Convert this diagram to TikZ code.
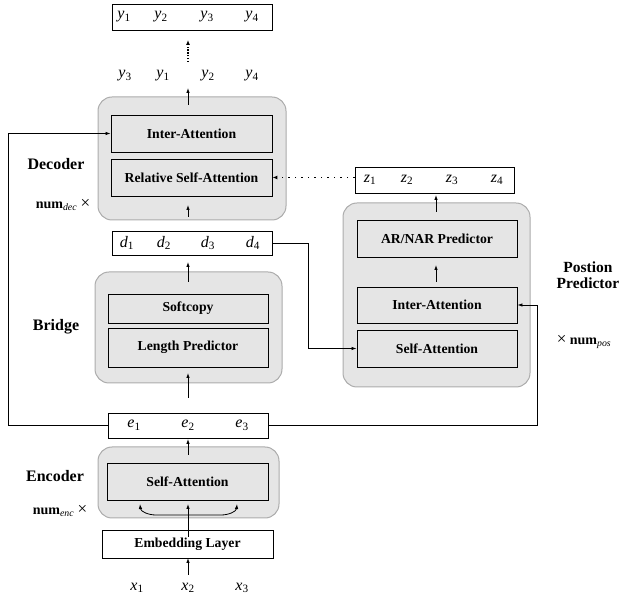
\documentclass[tikz,border=0pt]{standalone}
\usepackage{fontspec}
\setmainfont{Liberation Serif}
\usetikzlibrary{arrows.meta,calc}
\newcommand\sv[2]{\textit{#1}\textsubscript{#2}}
\newcommand\tms{{\fontsize{17}{17}\selectfont ×}}
\begin{document}
\begin{tikzpicture}[x=1pt,y=-1pt,
 grp/.style={draw=gray!65, fill=gray!20, rounded corners=14pt, line width=1pt, inner sep=0pt},
 blk/.style={draw=black, line width=0.9pt, font=\fontsize{13.7}{15}\selectfont\bfseries, inner sep=0pt},
 seq/.style={draw=black, line width=0.9pt, fill=white, inner sep=0pt},
 lab/.style={font=\fontsize{16}{17}\selectfont\bfseries, align=center, inner sep=0pt},
 num/.style={font=\fontsize{14}{16}\selectfont, inner sep=0pt},
 var/.style={font=\fontsize{16}{18}\selectfont, inner sep=0pt},
 arr/.style={-{Latex[length=5pt,width=3.5pt]}, line width=0.8pt},
 dotarr/.style={-{Latex[length=5pt,width=4pt]}, line width=1.2pt, dash pattern=on 1.2pt off 5.3pt},
 densedot/.style={-{Latex[length=5pt,width=4pt]}, line width=1.6pt, dash pattern=on 1.4pt off 1.4pt}]
\useasboundingbox (0,0) rectangle (619,601);

% ---- group boxes
\node[grp, minimum width=188pt, minimum height=123pt] (dec) at (192,158.5) {};
\node[grp, minimum width=187pt, minimum height=111pt] (brg) at (188.5,327.5) {};
\node[grp, minimum width=187pt, minimum height=184pt] (pp) at (436.5,295) {};
\node[grp, minimum width=181pt, minimum height=71pt] (enc) at (188.5,482.5) {};

% ---- inner blocks
\node[blk, minimum width=161pt, minimum height=37pt] (dia) at (191.5,133.5) {Inter-Attention};
\node[blk, minimum width=161pt, minimum height=37pt] (drsa) at (191.5,177.5) {Relative Self-Attention};
\node[blk, minimum width=160pt, minimum height=29pt] (soft) at (188,308.5) {Softcopy};
\node[blk, minimum width=160pt, minimum height=39pt] (lenp) at (188,347.5) {Length Predictor};
\node[blk, minimum width=160pt, minimum height=37pt] (arnar) at (437,238.5) {AR/NAR Predictor};
\node[blk, minimum width=160pt, minimum height=36pt] (pia) at (437,305) {Inter-Attention};
\node[blk, minimum width=160pt, minimum height=37pt] (psa) at (437,348.5) {Self-Attention};
\node[blk, minimum width=161pt, minimum height=37pt] (esa) at (187.5,481.5) {Self-Attention};
\node[blk, fill=white, minimum width=171pt, minimum height=28pt] (emb) at (187.5,544) {Embedding Layer};

% ---- sequence boxes
\node[seq, minimum width=160pt, minimum height=26pt] (ybox) at (192,17) {};
\node[seq, minimum width=160pt, minimum height=24pt] (dbox) at (192,243) {};
\node[seq, minimum width=159pt, minimum height=26pt] (zbox) at (434.5,180) {};
\node[seq, minimum width=160pt, minimum height=25pt] (ebox) at (188,425.5) {};

% ---- variables
\node[var] (ya) at (124,17) {\sv{y}{1}};
\node[var] (yb) at (161,17) {\sv{y}{2}};
\node[var] (yc) at (207,17) {\sv{y}{3}};
\node[var] (yd) at (252,17) {\sv{y}{4}};
\node[var] (ra) at (125,76) {\sv{y}{3}};
\node[var] (rb) at (163,76) {\sv{y}{1}};
\node[var] (rc) at (208,76) {\sv{y}{2}};
\node[var] (rd) at (252,76) {\sv{y}{4}};
\node[var] (da) at (127,243) {\sv{d}{1}};
\node[var] (db) at (164,243) {\sv{d}{2}};
\node[var] (dc) at (208,243) {\sv{d}{3}};
\node[var] (dd) at (253,243) {\sv{d}{4}};
\node[var] (za) at (370,180) {\sv{z}{1}};
\node[var] (zb) at (407,180) {\sv{z}{2}};
\node[var] (zc) at (452,180) {\sv{z}{3}};
\node[var] (zd) at (497,180) {\sv{z}{4}};
\node[var] (ea) at (134,425) {\sv{e}{1}};
\node[var] (eb) at (188,425) {\sv{e}{2}};
\node[var] (ec) at (242,425) {\sv{e}{3}};
\node[var] (xa) at (137,588) {\sv{x}{1}};
\node[var] (xb) at (188,588) {\sv{x}{2}};
\node[var] (xc) at (242,588) {\sv{x}{3}};

% ---- side labels
\node[lab] (ldec) at (56,164) {Decoder};
\node[num] (ndec) at (63,205) {\textbf{num}\textsubscript{\textit{dec}} \tms};
\node[lab] (lbrg) at (56,327) {Bridge};
\node[lab] (lenc) at (55,476) {Encoder};
\node[num] (nenc) at (60,511) {\textbf{num}\textsubscript{\textit{enc}} \tms};
\node[lab, font=\fontsize{15.5}{16}\selectfont\bfseries] (lpp) at (588,275) {Postion\\Predictor};
\node[num] (npos) at (584,342) {\tms{} \textbf{num}\textsubscript{\textit{pos}}};

% ---- coordinates for short arrows
\coordinate (t1) at (188,62);  \coordinate (h1) at (188,40);
\coordinate (t2) at (188,105); \coordinate (h2) at (188,88);
\coordinate (t3) at (188,217); \coordinate (h3) at (188,205);
\coordinate (t4) at (188,282); \coordinate (h4) at (188,262);
\coordinate (t5) at (188,398); \coordinate (h5) at (188,373);
\coordinate (t6) at (188,455); \coordinate (h6) at (188,439);
\coordinate (t7) at (188,537); \coordinate (h7) at (188,504);
\coordinate (t8) at (188,575); \coordinate (h8) at (188,558);
\coordinate (t9) at (436,212); \coordinate (h9) at (436,195);
\coordinate (t10) at (436,282); \coordinate (h10) at (436,265);
\coordinate (cl) at (140,504); \coordinate (cr) at (237,504);
\coordinate (lx) at (8,0); \coordinate (rx) at (537,0); \coordinate (mx) at (308,0);

% ---- connectors
\draw[densedot] (t1) -- (h1);
\foreach \i in {2,...,10} { \draw[arr] (t\i) -- (h\i); }
\draw[arr, {Latex[length=5pt,width=3.5pt]}-{Latex[length=5pt,width=3.5pt]}]
  (cl) to[out=-85,in=180] (156,515) -- (221,515) to[out=0,in=-95] (cr);
\draw[arr] (ebox.west) -| (lx |- dia.west) -- (dia.west);
\draw[arr] (ebox.east) -| (rx |- pia.east) -- (pia.east);
\draw[arr] (dbox.east) -| (mx |- psa.west) -- (psa.west);
\draw[dotarr] (zbox.west |- drsa.east) -- (drsa.east);
\end{tikzpicture}
\end{document}
